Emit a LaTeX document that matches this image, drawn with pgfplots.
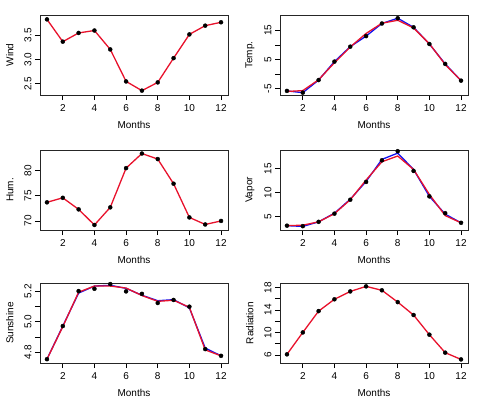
\documentclass[border=0pt]{standalone}
\usepackage{fontspec}
\setmainfont{Liberation Sans}
\usepackage{pgfplots}
\pgfplotsset{compat=1.18}
\definecolor{fitred}{HTML}{E8122C}
\definecolor{obsblue}{HTML}{1010F0}

% R-style base graphics panel
\pgfplotsset{
  rpanel/.style={
    scale only axis, width=188pt, height=80pt,
    xmin=0.56, xmax=12.44,
    axis line style={line width=0.9pt, black!85},
    tick style={line width=0.7pt, black},
    tick align=outside, major tick length=5pt,
    xtick pos=left, ytick pos=left,
    xtick={2,4,...,12}, xticklabels={2,4,6,8,10,12},
    font=\fontsize{10}{12}\selectfont,
    xticklabel style={yshift=-1pt},
    yticklabel style={rotate=90, anchor=south},
    xlabel={Months},
    every axis x label/.style={at={(axis description cs:0.5,-0.375)}, anchor=center},
    every axis y label/.style={at={(axis description cs:-0.16,0.5)}, anchor=center, rotate=90},
  },
  obs/.style={only marks, mark=*, mark size=2pt, black},
  bl/.style={obsblue, line width=1.3pt, no marks},
  rd/.style={fitred, line width=1.3pt, no marks},
}

\begin{document}
\begin{tikzpicture}
\path[use as bounding box] (-40pt,15pt) rectangle (440pt,-384pt);

% Wind
\begin{axis}[rpanel, at={(0pt,0pt)}, anchor=north west,
  ymin=2.27, ymax=3.92, ytick={2.5,3.0,3.5}, yticklabels={2.5,3.0,3.5}, ylabel={Wind}]
\addplot[rd] coordinates {(1,3.83) (2,3.37) (3,3.55) (4,3.60) (5,3.21) (6,2.55) (7,2.36) (8,2.53) (9,3.03) (10,3.52) (11,3.70) (12,3.77)};
\addplot[obs] coordinates {(1,3.83) (2,3.37) (3,3.55) (4,3.60) (5,3.21) (6,2.55) (7,2.36) (8,2.53) (9,3.03) (10,3.52) (11,3.70) (12,3.77)};
\end{axis}

% Temp.
\begin{axis}[rpanel, at={(240pt,0pt)}, anchor=north west,
  ymin=-7.1, ymax=20.2, ytick={-5,0,5,10,15}, yticklabels={-5,,5,,15}, ylabel={Temp.}]
\addplot[bl] coordinates {(1,-5.7) (2,-6.3) (3,-2.0) (4,4.3) (5,9.4) (6,13.0) (7,17.3) (8,19.1) (9,16.0) (10,10.3) (11,3.5) (12,-2.2)};
\addplot[rd] coordinates {(1,-5.9) (2,-5.6) (3,-1.9) (4,3.9) (5,9.3) (6,13.9) (7,17.4) (8,18.4) (9,15.8) (10,10.4) (11,3.3) (12,-2.2)};
\addplot[obs] coordinates {(1,-5.7) (2,-6.3) (3,-2.0) (4,4.3) (5,9.4) (6,13.0) (7,17.3) (8,19.1) (9,16.0) (10,10.3) (11,3.5) (12,-2.2)};
\end{axis}

% Hum.
\begin{axis}[rpanel, at={(0pt,-135pt)}, anchor=north west,
  ymin=68.2, ymax=84.1, ytick={70,75,80}, yticklabels={70,75,80}, ylabel={Hum.}]
\addplot[rd] coordinates {(1,73.7) (2,74.6) (3,72.3) (4,69.2) (5,72.7) (6,80.5) (7,83.4) (8,82.3) (9,77.4) (10,70.7) (11,69.3) (12,70.0)};
\addplot[obs] coordinates {(1,73.7) (2,74.6) (3,72.3) (4,69.2) (5,72.7) (6,80.5) (7,83.4) (8,82.3) (9,77.4) (10,70.7) (11,69.3) (12,70.0)};
\end{axis}

% Vapor
\begin{axis}[rpanel, at={(240pt,-135pt)}, anchor=north west,
  ymin=2.2, ymax=18.85, ytick={5,10,15}, yticklabels={5,10,15}, ylabel={Vapor}]
\addplot[bl] coordinates {(1,3.1) (2,2.95) (3,3.9) (4,5.7) (5,8.6) (6,12.3) (7,16.9) (8,18.2) (9,14.8) (10,9.2) (11,5.5) (12,3.7)};
\addplot[rd] coordinates {(1,3.1) (2,3.2) (3,3.9) (4,5.6) (5,8.5) (6,12.6) (7,16.4) (8,17.6) (9,14.8) (10,9.6) (11,5.2) (12,3.7)};
\addplot[obs] coordinates {(1,3.1) (2,3.0) (3,3.9) (4,5.6) (5,8.5) (6,12.2) (7,16.7) (8,18.6) (9,14.5) (10,9.2) (11,5.7) (12,3.7)};
\end{axis}

% Sunshine
\begin{axis}[rpanel, at={(0pt,-268pt)}, anchor=north west,
  ymin=4.729, ymax=5.253, ytick={4.8,4.9,5.0,5.1,5.2}, yticklabels={4.8,,5.0,,5.2}, ylabel={Sunshine}]
\addplot[bl] coordinates {(1,4.754) (2,4.971) (3,5.187) (4,5.233) (5,5.238) (6,5.218) (7,5.173) (8,5.137) (9,5.144) (10,5.090) (11,4.827) (12,4.776)};
\addplot[rd] coordinates {(1,4.754) (2,4.967) (3,5.193) (4,5.233) (5,5.233) (6,5.220) (7,5.171) (8,5.133) (9,5.140) (10,5.094) (11,4.815) (12,4.776)};
\addplot[obs] coordinates {(1,4.754) (2,4.971) (3,5.200) (4,5.215) (5,5.246) (6,5.198) (7,5.182) (8,5.122) (9,5.142) (10,5.098) (11,4.820) (12,4.776)};
\end{axis}

% Radiation
\begin{axis}[rpanel, at={(240pt,-268pt)}, anchor=north west,
  ymin=4.56, ymax=18.8, ytick={6,8,...,18}, yticklabels={6,,10,,14,,18}, ylabel={Radiation}]
\addplot[rd] coordinates {(1,6.1) (2,10.0) (3,13.8) (4,15.9) (5,17.3) (6,18.2) (7,17.5) (8,15.4) (9,13.1) (10,9.6) (11,6.4) (12,5.2)};
\addplot[obs] coordinates {(1,6.1) (2,10.0) (3,13.8) (4,15.9) (5,17.3) (6,18.2) (7,17.5) (8,15.4) (9,13.1) (10,9.6) (11,6.4) (12,5.2)};
\end{axis}
\end{tikzpicture}
\end{document}
